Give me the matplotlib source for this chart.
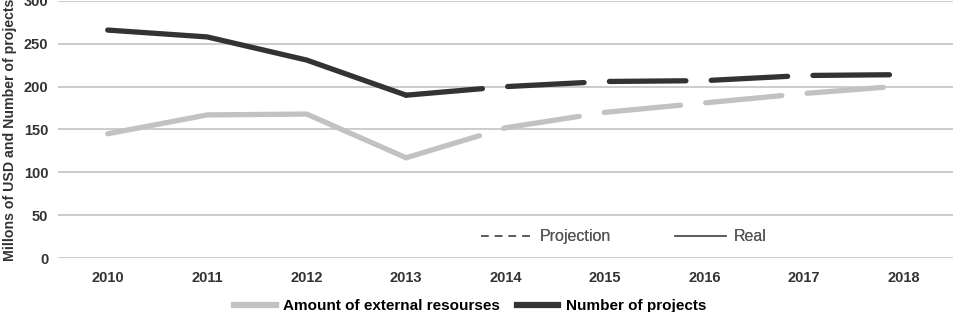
import matplotlib.pyplot as plt
from matplotlib.lines import Line2D

plt.rcParams['font.family'] = ['Liberation Sans', 'DejaVu Sans']

# Datos
years = ["2010", "2011", "2012", "2013", "2014", "2015", "2016", "2017", "2018"]
resources = [145, 167, 168, 117, 152, 170, 181, 192, 201]
projects = [266, 258, 231, 190, 200, 206, 207, 213, 214]
last_real = 3  # 2013: a partir de aqui es proyeccion

light = "#c2c2c2"
dark = "#333333"

fig = plt.figure(figsize=(9.6, 3.12), dpi=100)
ax = fig.add_axes([0.0604, 0.173, 0.9326, 0.824])

x = list(range(len(years)))
lw = 3.8

for vals, col in [(resources, light), (projects, dark)]:
    ax.plot(x[:last_real + 1], vals[:last_real + 1], color=col, lw=lw,
            solid_capstyle="round", solid_joinstyle="round")
    ax.plot(x[last_real:], vals[last_real:], color=col, lw=lw,
            dashes=(14.5, 4.8), dash_capstyle="round", solid_joinstyle="round")

ax.set_xlim(-0.5, len(years) - 0.5)
ax.set_ylim(0, 300)
ax.set_yticks(range(0, 301, 50))
ax.set_xticks(x)
ax.set_xticklabels(years)
ax.grid(axis="y", color="#c8c8c8", lw=1.3)
ax.set_axisbelow(True)
for s in ax.spines.values():
    s.set_visible(False)
ax.tick_params(length=0, labelsize=10.5, labelcolor="#333333")
ax.tick_params(axis="x", pad=9)
ax.tick_params(axis="y", pad=7)
for lab in ax.get_xticklabels() + ax.get_yticklabels():
    lab.set_fontweight("bold")

ax.set_ylabel("Millons of USD and Number of projects", fontsize=10.2,
              fontweight="bold", color="#333333")
ax.yaxis.set_label_coords(-0.046, 0.5)

# leyenda interna: proyeccion / real
style_handles = [Line2D([], [], color="#555555", lw=1.1, ls=(0, (5, 4))),
                 Line2D([], [], color="#555555", lw=1.1)]
leg1 = ax.legend(style_handles, ["Projection", "Real"], loc="center",
                 bbox_to_anchor=(0.632, 0.082), ncol=2, frameon=False,
                 fontsize=11.5, handlelength=3.2, handletextpad=0.5,
                 columnspacing=4, labelcolor="#555555")
ax.add_artist(leg1)

# leyenda inferior: series
series_handles = [Line2D([], [], color=light, lw=4.5),
                  Line2D([], [], color=dark, lw=4.5)]
fig.legend(series_handles, ["Amount of external resourses", "Number of projects"],
           loc="center", bbox_to_anchor=(0.49, 0.018), ncol=2, frameon=False,
           handlelength=2.7, handletextpad=0.5, columnspacing=1.1,
           prop={"weight": "bold", "size": 11})

fig.savefig("out.png", dpi=100)
